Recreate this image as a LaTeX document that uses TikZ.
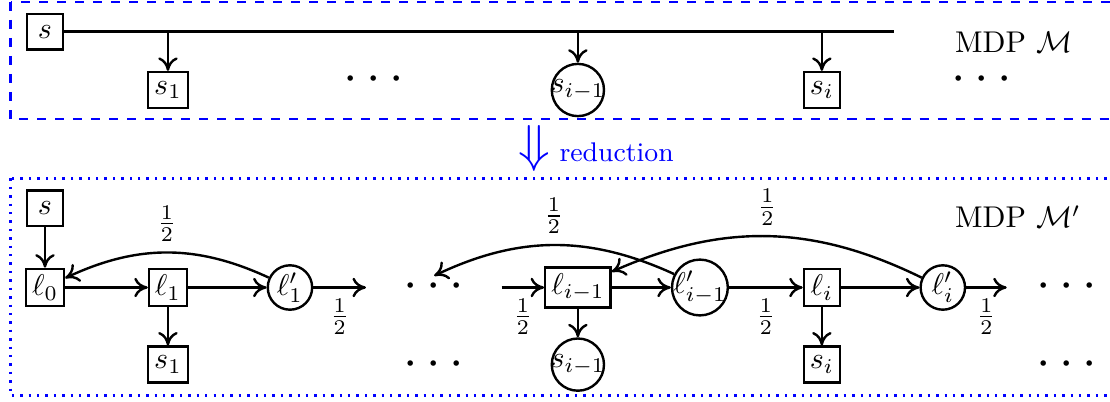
\documentclass[tikz,border=0pt]{standalone}
\usetikzlibrary{arrows.meta}
\begin{document}
\begin{tikzpicture}[
	>={To[length=4.5pt,width=6.5pt]},
	box/.style={draw, thick, minimum size=0.42cm, inner sep=2pt},
	round/.style={draw, thick, circle, minimum size=0.52cm, inner sep=-0.8pt},
	edge/.style={->, thick},
	dotsnode/.style={font=\LARGE, inner sep=0pt, text height=5.5pt, text depth=0pt},
	title/.style={anchor=base west, inner sep=0pt}
	]
	\useasboundingbox (0,0) rectangle (13,-4.7);

	\draw[blue, dashed, thick] (0.123,-0.023) rectangle (13.2,-1.397);
	\draw[blue, dotted, thick] (0.123,-2.09) rectangle (13.2,-4.633);

	\node[box] (s) at (0.527,-0.371) {$s$};
	\node[box] (s1) at (1.967,-1.054) {$s_1$};
	\node[dotsnode] (dots1) at (4.376,-0.98) {$\cdots$};
	\node[round] (si1) at (6.768,-1.054) {$s_{i-1}$};
	\node[box] (si) at (9.625,-1.054) {$s_i$};
	\node[dotsnode] (dots2) at (11.50,-0.98) {$\cdots$};
	\node[title] (mdp) at (11.18,-0.609) {MDP $\mathcal{M}$};
	\coordinate (send) at (10.466,-0.371);

	\draw[thick] (s) -- (send);
	\draw[edge] (s1 |- s) -- (s1);
	\draw[edge] (si1 |- s) -- (si1);
	\draw[edge] (si |- s) -- (si);

	\node[title, blue] (red) at (6.066,-1.897) {\LARGE$\Downarrow$\small\ reduction};

	\node[box] (s0) at (0.527,-2.44) {$s$};
	\node[box] (l0) at (0.527,-3.367) {$\ell_0$};
	\node[box] (l1) at (1.967,-3.367) {$\ell_1$};
	\node[round] (l1p) at (3.396,-3.367) {$\ell'_1$};
	\coordinate (a1) at (4.286,-3.367);
	\node[dotsnode] (dots3) at (5.085,-3.396) {$\cdots$};
	\coordinate (a2) at (5.876,-3.367);
	\node[box] (li1) at (6.768,-3.367) {$\ell_{i-1}$};
	\node[round] (li1p) at (8.197,-3.367) {$\ell'_{i-1}$};
	\node[box] (li) at (9.625,-3.367) {$\ell_i$};
	\node[round] (lip) at (11.042,-3.367) {$\ell'_i$};
	\coordinate (a3) at (11.79,-3.367);
	\node[dotsnode] (dots4) at (12.498,-3.396) {$\cdots$};
	\node[title] (mdp2) at (11.18,-2.67) {MDP $\mathcal{M}'$};

	\node[box] (s1b) at (1.967,-4.27) {$s_1$};
	\node[dotsnode] (dots5) at (5.085,-4.314) {$\cdots$};
	\node[round] (si1b) at (6.768,-4.27) {$s_{i-1}$};
	\node[box] (sib) at (9.625,-4.27) {$s_i$};
	\node[dotsnode] (dots6) at (12.498,-4.314) {$\cdots$};

	\draw[edge] (s0) -- (l0);
	\draw[edge] (l0) -- (l1);
	\draw[edge] (l1) -- (l1p);
	\draw[edge] (l1p) -- node[below] {$\frac12$} (a1);
	\draw[edge] (a2) -- node[below] {$\frac12$} (li1);
	\draw[edge] (li1) -- (li1p);
	\draw[edge] (li1p) -- node[below] {$\frac12$} (li);
	\draw[edge] (li) -- (lip);
	\draw[edge] (lip) -- node[below] {$\frac12$} (a3);

	\draw[edge] (l1) -- (s1b);
	\draw[edge] (li1) -- (si1b);
	\draw[edge] (li) -- (sib);

	\draw[edge] (l1p) to[bend right=25] node[above] {$\frac12$} (l0);
	\draw[edge] (li1p) to[bend right=25] node[above] {$\frac12$} ([yshift=1.8pt]dots3.north);
	\draw[edge] (lip) to[bend right=25] node[above] {$\frac12$} (li1);
\end{tikzpicture}
\end{document}
